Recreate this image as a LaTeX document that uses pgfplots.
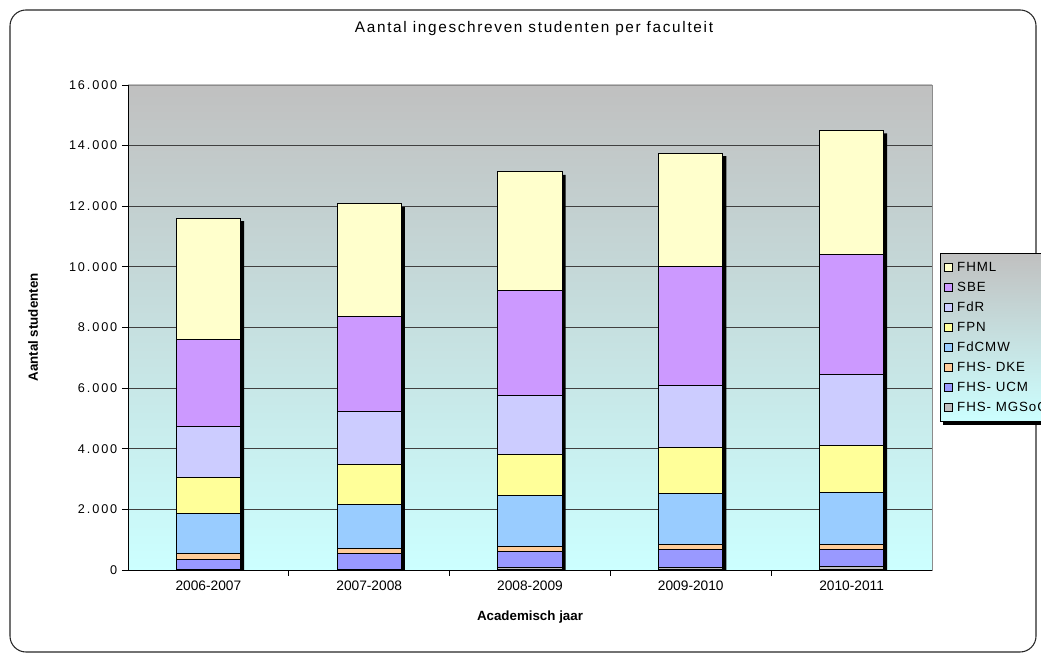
\documentclass[border=0pt]{standalone}
\usepackage{pgfplots}
\pgfplotsset{compat=1.18}
\usepackage{fontspec}
\setmainfont{Liberation Sans}
\newfontfamily\ytickfont[LetterSpace=15]{Liberation Sans}
\newfontfamily\titlefont[LetterSpace=11]{Liberation Sans}
\newfontfamily\legfont[LetterSpace=7]{Liberation Sans}

\definecolor{topgray}{RGB}{192,192,192}
\definecolor{botcyan}{RGB}{204,255,255}
\definecolor{cMG}{RGB}{192,192,192}
\definecolor{cUCM}{RGB}{153,153,255}
\definecolor{cDKE}{RGB}{255,204,153}
\definecolor{cCMW}{RGB}{153,204,255}
\definecolor{cFPN}{RGB}{255,255,153}
\definecolor{cFdR}{RGB}{204,204,255}
\definecolor{cSBE}{RGB}{204,153,255}
\definecolor{cFHML}{RGB}{255,255,204}

\pgfplotsset{
  myaxis/.style={
    at={(96pt,63.75pt)}, anchor=south west,
    scale only axis, width=603pt, height=363.75pt,
    xmin=-0.5, xmax=4.5, ymin=0, ymax=16000,
    ytick={0,2000,...,16000}, xtick={0,...,4},
    scaled y ticks=false,
    /pgf/number format/assume math mode=true,
    /pgf/number format/1000 sep={.},
    x tick label style={font=\fontsize{10.3}{12}\selectfont},
    y tick label style={font=\ytickfont\fontsize{9.5}{12}\selectfont},
    bar width=0.4,
  }
}

\begin{document}
\begin{tikzpicture}
\useasboundingbox (0,0) rectangle (780.75pt,491.25pt);
\clip (0,0) rectangle (780.75pt,491.25pt);
\draw[rounded corners=12pt, line width=0.8pt, black!85] (7.5pt,2.25pt) rectangle (777pt,483.75pt);

% background, grid, shadow
\begin{axis}[myaxis,
  axis background/.style={shade, top color=topgray, bottom color=botcyan},
  ymajorgrids, major grid style={black!75, line width=0.6pt},
  xticklabels={}, yticklabels={},
  axis line style={draw=black!45},
  tick style={draw=none},
  ybar, bar shift=2.6pt]
\addplot[fill=black, draw=none, yshift=-2.25pt] coordinates {(0,11607) (1,12079) (2,13135) (3,13752) (4,14499)};
\end{axis}

% stacked bars
\begin{axis}[myaxis,
  ybar stacked,
  axis x line*=bottom, axis y line*=left,
  axis line style={-, black, line width=0.7pt},
  xticklabels={2006-2007,2007-2008,2008-2009,2009-2010,2010-2011},
  minor xtick={0.5,1.5,2.5,3.5},
  major x tick style={draw=none},
  minor x tick style={black, line width=0.6pt},
  major y tick style={black, line width=0.6pt},
  tick align=outside, major tick length=4.5pt, minor tick length=4.5pt,
  xlabel={\bfseries Academisch jaar},
  ylabel={\bfseries Aantal studenten},
  label style={font=\fontsize{10.3}{12}\selectfont},
  every axis x label/.style={at={(axis description cs:0.5,-0.097)}, anchor=center},
  every axis y label/.style={at={(axis description cs:-0.118,0.5)}, rotate=90, anchor=center},
  title={Aantal ingeschreven studenten per faculteit},
  title style={at={(axis description cs:0.505,1.099)}, anchor=center, font=\titlefont\fontsize{11.5}{14}\selectfont},
  every axis plot/.append style={draw=black, line width=0.75pt},
  reverse legend,
  legend cell align=left,
  legend style={name=mylegend, at={(axis description cs:1.01,0.6536)}, anchor=north west,
    draw=black, line width=0.6pt, shade, top color=topgray, bottom color=botcyan,
    font=\legfont\fontsize{10}{12}\selectfont,
    nodes={inner ysep=0pt, inner xsep=1pt, text height=8pt, text depth=2pt},
    /tikz/every odd column/.append style={column sep=2.5pt},
    row sep=5pt, inner xsep=2.5pt, inner ysep=5.5pt},
  legend image code/.code={\draw[#1, draw=black, line width=0.6pt] (0pt,-3pt) rectangle (6pt,3pt);},
]
\addplot[fill=cMG] coordinates {(0,0) (1,0) (2,89) (3,66) (4,122)};
\addplot[fill=cUCM] coordinates {(0,353) (1,528) (2,515) (3,617) (4,538)};
\addplot[fill=cDKE] coordinates {(0,175) (1,165) (2,165) (3,142) (4,165)};
\addplot[fill=cCMW] coordinates {(0,1320) (1,1452) (2,1683) (3,1693) (4,1739)};
\addplot[fill=cFPN] coordinates {(0,1198) (1,1320) (2,1366) (3,1508) (4,1550)};
\addplot[fill=cFdR] coordinates {(0,1684) (1,1772) (2,1925) (3,2047) (4,2322)};
\addplot[fill=cSBE] coordinates {(0,2884) (1,3123) (2,3465) (3,3927) (4,3970)};
\addplot[fill=cFHML] coordinates {(0,3993) (1,3719) (2,3927) (3,3752) (4,4093)};
\legend{FHS- MGSoG,FHS- UCM,FHS- DKE,FdCMW,FPN,FdR,SBE,FHML}
\end{axis}
% legend drop shadow (outside the legend box)
\fill[black] ([xshift=2.5pt,yshift=-2.5pt]mylegend.south west) rectangle ([xshift=2.5pt,yshift=-0.3pt]mylegend.south east);
\fill[black] ([xshift=0.3pt,yshift=-2.5pt]mylegend.south east) rectangle ([xshift=2.5pt,yshift=-2.5pt]mylegend.north east);
\end{tikzpicture}
\end{document}
